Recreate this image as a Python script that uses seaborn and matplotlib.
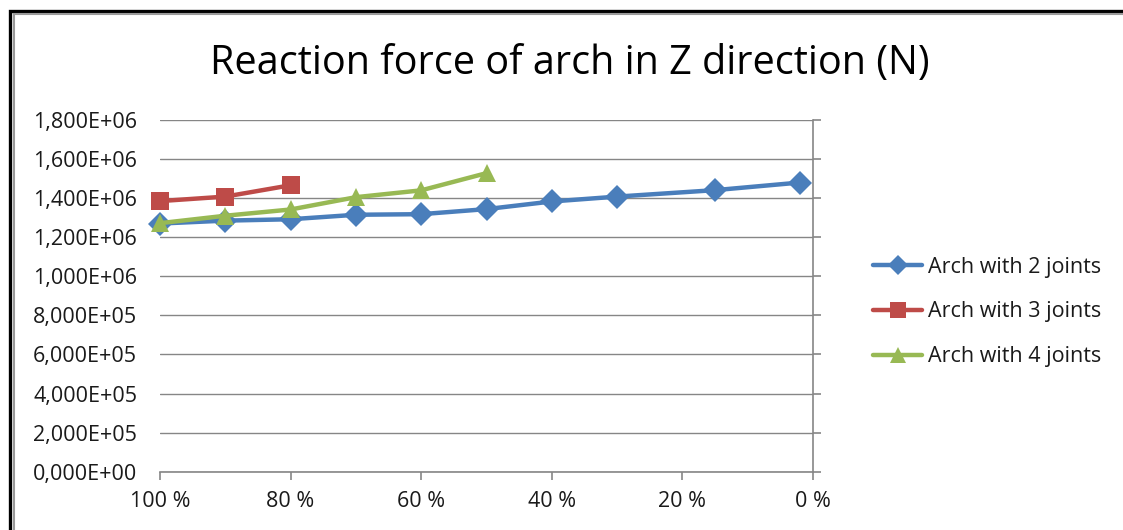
import matplotlib
matplotlib.use("Agg")
import matplotlib.pyplot as plt
from matplotlib.ticker import FuncFormatter, MultipleLocator
from matplotlib.lines import Line2D
import numpy as np
import pandas as pd
import seaborn as sns

# Remaining arch support stiffness (%) and vertical reaction force (N)
x_two = [100, 90, 80, 70, 60, 50, 40, 30, 15, 2]
f_two = [1.270e6, 1.285e6, 1.292e6, 1.315e6, 1.318e6, 1.344e6, 1.383e6, 1.408e6, 1.441e6, 1.480e6]

x_three = [100, 90, 80]
f_three = [1.385e6, 1.408e6, 1.466e6]

x_four = [100, 90, 80, 70, 60, 50]
f_four = [1.272e6, 1.310e6, 1.342e6, 1.405e6, 1.440e6, 1.528e6]

series_names = ["Arch with 2 joints", "Arch with 3 joints", "Arch with 4 joints"]
x_ticks = [100, 80, 60, 40, 20, 0]
title_text = "Reaction force of arch in Z direction (N)"

df = pd.concat([
    pd.DataFrame({"pct": x_two, "force": f_two, "series": series_names[0]}),
    pd.DataFrame({"pct": x_three, "force": f_three, "series": series_names[1]}),
    pd.DataFrame({"pct": x_four, "force": f_four, "series": series_names[2]}),
], ignore_index=True)

sns.set_theme(style="white")
plt.rcParams["font.family"] = ["Open Sans", "DejaVu Sans"]

W, H = 1123, 530
fig = plt.figure(figsize=(W / 100, H / 100), dpi=100)
fig.patch.set_facecolor("white")

left, right, top, bottom = 160, 813, 120, 471.7
ax = fig.add_axes([left / W, 1 - bottom / H, (right - left) / W, (bottom - top) / H])

palette = {series_names[0]: "#4A7EBB", series_names[1]: "#BE4B48", series_names[2]: "#98B954"}
markers = {series_names[0]: "D", series_names[1]: "s", series_names[2]: "^"}
sizes = {series_names[0]: 12, series_names[1]: 13, series_names[2]: 13}

for name in series_names:
    sub = df[df["series"] == name]
    sns.lineplot(data=sub, x="pct", y="force", ax=ax, color=palette[name],
                 marker=markers[name], markersize=sizes[name], markeredgewidth=0,
                 linewidth=3.2, label=name, sort=False, legend=False, clip_on=False)

ax.set_xlim(100, 0)
ax.set_ylim(0, 1.8e6)
ax.xaxis.set_major_locator(plt.FixedLocator(x_ticks))
ax.yaxis.set_major_locator(MultipleLocator(2e5))


def sci_comma(v, pos):
    if v == 0:
        return "0,000E+00"
    exp = int(np.floor(np.log10(abs(v)) + 1e-9))
    mant = v / 10 ** exp
    return f"{mant:.3f}".replace(".", ",") + f"E+{exp:02d}"


ax.yaxis.set_major_formatter(FuncFormatter(sci_comma))
ax.xaxis.set_major_formatter(FuncFormatter(lambda v, p: f"{int(round(v))} %"))

grid_c = "#868686"
ax.grid(axis="y", color=grid_c, linewidth=1.0)
ax.grid(axis="x", visible=False)
ax.set_axisbelow(True)
for s in ["top", "left"]:
    ax.spines[s].set_visible(False)
for s in ["bottom", "right"]:
    ax.spines[s].set_visible(True)
    ax.spines[s].set_color(grid_c)
    ax.spines[s].set_linewidth(1.2)

ax.tick_params(axis="y", left=False, right=True, labelleft=True, labelright=False,
               direction="out", length=6, width=1.2, color=grid_c,
               labelsize=15.5, labelcolor="#1a1a1a", pad=10.5)
ax.tick_params(axis="x", bottom=True, direction="out", length=6, width=1.2, color=grid_c,
               labelsize=15.5, labelcolor="#1a1a1a", pad=8)
ax.set_xlabel("")
ax.set_ylabel("")

fig.text(570 / W, 1 - 64 / H, title_text, ha="center", va="center",
         fontsize=28.5, color="black")

handles, labels = ax.get_legend_handles_labels()
leg = fig.legend(handles, labels, loc="center left",
                 bbox_to_anchor=(862 / W, 1 - 312 / H), frameon=False,
                 fontsize=15.5, handlelength=2.3, handletextpad=0.25,
                 labelspacing=1.1, borderpad=0, labelcolor="#1a1a1a",
                 markerscale=0.85)

# Chart frame: black outer line with a grey inner line along top and left
fig.add_artist(Line2D([10 / W, 10 / W, 1.05], [-0.05, 1 - 10.5 / H, 1 - 10.5 / H],
                      transform=fig.transFigure, color="black", linewidth=2.4,
                      solid_joinstyle="miter"))
fig.add_artist(Line2D([13.5 / W, 13.5 / W, 1.05], [-0.05, 1 - 14 / H, 1 - 14 / H],
                      transform=fig.transFigure, color="#9a9a9a", linewidth=1.5,
                      solid_joinstyle="miter"))

fig.savefig("out.png", dpi=100, facecolor="white")
